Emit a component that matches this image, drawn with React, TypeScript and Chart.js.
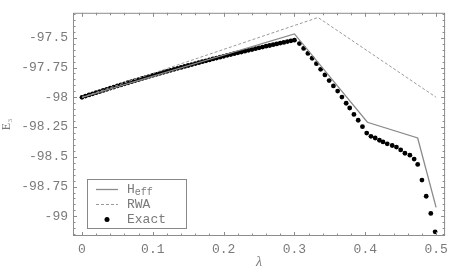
import React, { useEffect, useRef } from "react";
import { Chart, registerables } from "chart.js";

Chart.register(...registerables);

const exactLambda = [
  0, 0.005, 0.01, 0.015, 0.02, 0.025, 0.03, 0.035, 0.04, 0.045, 0.05, 0.055, 0.06, 0.065, 0.07, 0.075,
  0.08, 0.085, 0.09, 0.095, 0.1, 0.105, 0.11, 0.115, 0.12, 0.125, 0.13, 0.135, 0.14, 0.145, 0.15, 0.155,
  0.16, 0.165, 0.17, 0.175, 0.18, 0.185, 0.19, 0.195, 0.2, 0.205, 0.21, 0.215, 0.22, 0.225, 0.23, 0.235,
  0.24, 0.245, 0.25, 0.255, 0.26, 0.265, 0.27, 0.275, 0.28, 0.285, 0.29, 0.295, 0.3,
  0.307, 0.313, 0.319, 0.325, 0.331, 0.337, 0.343, 0.349, 0.355, 0.361, 0.367, 0.373, 0.378, 0.384,
  0.39, 0.396, 0.402, 0.408, 0.414, 0.42, 0.425, 0.431, 0.438, 0.444, 0.45, 0.456, 0.463, 0.469,
  0.474, 0.48, 0.486, 0.4925, 0.4986,
];
const exactE = [
  -98.0, -97.99, -97.98, -97.971, -97.961, -97.952, -97.942, -97.933, -97.923, -97.914, -97.905, -97.896,
  -97.887, -97.878, -97.869, -97.86, -97.851, -97.842, -97.833, -97.824, -97.816, -97.807, -97.799, -97.79,
  -97.782, -97.774, -97.765, -97.757, -97.749, -97.741, -97.733, -97.725, -97.717, -97.709, -97.701, -97.694,
  -97.686, -97.678, -97.671, -97.663, -97.656, -97.648, -97.641, -97.634, -97.627, -97.62, -97.613, -97.606,
  -97.599, -97.592, -97.585, -97.578, -97.571, -97.565, -97.558, -97.552, -97.545, -97.539, -97.532, -97.526,
  -97.52,
  -97.549, -97.59, -97.632, -97.672, -97.718, -97.765, -97.812, -97.86, -97.905, -97.948, -97.998, -98.05,
  -98.09, -98.144, -98.193, -98.247, -98.301, -98.328, -98.342, -98.361, -98.375, -98.391, -98.405, -98.418,
  -98.442, -98.47, -98.486, -98.519, -98.564, -98.695, -98.831, -98.975, -99.13,
];

const heffLambda = [0, 0.3, 0.403, 0.474, 0.5];
const heffE = [-98.0, -97.468, -98.21, -98.342, -98.925];

const rwaLambda = [0, 0.3333, 0.5];
const rwaE = [-98.0, -97.33, -98.0];

const xTicks = [0, 0.1, 0.2, 0.3, 0.4, 0.5];
const xTickLabels = ["0", "0.1", "0.2", "0.3", "0.4", "0.5"];
const yTicks = [-97.5, -97.75, -98, -98.25, -98.5, -98.75, -99];
const yTickLabels = ["-97.5", "-97.75", "-98", "-98.25", "-98.5", "-98.75", "-99"];

const X_MIN = -0.01268;
const X_MAX = 0.51268;
const Y_MIN = -99.165;
const Y_MAX = -97.2905;

const FRAME = "#8c8c8c";
const TEXT = "#7a7a7a";
const MONO = '"Liberation Mono", "DejaVu Sans Mono", monospace';

const framePlugin = {
  id: "frameTicksLegend",
  afterDraw(chart: any) {
    const { ctx, chartArea, scales } = chart;
    const { left, right, top, bottom } = chartArea;
    const xs = scales.x;
    const ys = scales.y;
    ctx.save();
    ctx.strokeStyle = FRAME;
    ctx.lineWidth = 1;
    ctx.strokeRect(left + 0.5, top + 0.5, right - left - 1, bottom - top - 1);
    ctx.beginPath();
    for (let i = 0; i <= 25; i++) {
      const v = i * 0.02;
      const px = Math.round(xs.getPixelForValue(v)) + 0.5;
      const len = i % 5 === 0 ? 4 : 2.5;
      ctx.moveTo(px, bottom);
      ctx.lineTo(px, bottom - len);
      ctx.moveTo(px, top);
      ctx.lineTo(px, top + len);
    }
    for (let i = -4; i <= 33; i++) {
      const v = -97.5 - i * 0.05;
      if (v > Y_MAX || v < Y_MIN) continue;
      const py = Math.round(ys.getPixelForValue(v)) + 0.5;
      const len = i % 5 === 0 ? 4 : 2.5;
      ctx.moveTo(left, py);
      ctx.lineTo(left + len, py);
      ctx.moveTo(right, py);
      ctx.lineTo(right - len, py);
    }
    ctx.stroke();

    // legend
    const bx = 87, by = 179, bw = 100, bh = 50;
    ctx.fillStyle = "#fff";
    ctx.fillRect(bx, by, bw, bh);
    ctx.strokeStyle = "#888";
    ctx.strokeRect(bx + 0.5, by + 0.5, bw - 1, bh - 1);

    const rows = [189.5, 204.5, 219.5];
    ctx.lineWidth = 1.3;
    ctx.strokeStyle = "#8a8a8a";
    ctx.beginPath();
    ctx.moveTo(96, rows[0]);
    ctx.lineTo(118, rows[0]);
    ctx.stroke();
    ctx.lineWidth = 1;
    ctx.strokeStyle = "#999";
    ctx.setLineDash([3, 2]);
    ctx.beginPath();
    ctx.moveTo(96, rows[1]);
    ctx.lineTo(118, rows[1]);
    ctx.stroke();
    ctx.setLineDash([]);
    ctx.fillStyle = "#000";
    ctx.beginPath();
    ctx.arc(107, rows[2], 2.5, 0, Math.PI * 2);
    ctx.fill();

    ctx.fillStyle = TEXT;
    ctx.textBaseline = "middle";
    ctx.textAlign = "left";
    ctx.font = `13px ${MONO}`;
    ctx.fillText("H", 127, rows[0]);
    const hw = ctx.measureText("H").width;
    ctx.font = `10px ${MONO}`;
    ctx.fillText("eff", 127 + hw, rows[0] + 3);
    ctx.font = `13px ${MONO}`;
    ctx.fillText("RWA", 127, rows[1]);
    ctx.fillText("Exact", 127, rows[2]);
    ctx.restore();
  },
};

export default function App() {
  const ref = useRef<HTMLCanvasElement | null>(null);
  useEffect(() => {
    if (!ref.current) return;
    const exactPts = exactLambda.map((x, i) => ({ x, y: exactE[i] }));
    const heffPts = heffLambda.map((x, i) => ({ x, y: heffE[i] }));
    const rwaPts = rwaLambda.map((x, i) => ({ x, y: rwaE[i] }));
    const chart = new Chart(ref.current, {
      type: "scatter",
      data: {
        datasets: [
          {
            label: "RWA",
            data: rwaPts,
            showLine: true,
            borderColor: "#9a9a9a",
            borderWidth: 1,
            borderDash: [3, 2],
            pointRadius: 0,
          },
          {
            label: "Heff",
            data: heffPts,
            showLine: true,
            borderColor: "#8a8a8a",
            borderWidth: 1.3,
            pointRadius: 0,
          },
          {
            label: "Exact",
            data: exactPts,
            showLine: false,
            pointRadius: 2.4,
            pointBackgroundColor: "#000",
            pointBorderWidth: 0,
          },
        ],
      },
      options: {
        responsive: false,
        animation: false,
        devicePixelRatio: 1,
        layout: { padding: { top: 6, right: 8, left: 0, bottom: 0 } },
        plugins: { legend: { display: false }, tooltip: { enabled: false } },
        scales: {
          x: {
            type: "linear",
            min: X_MIN,
            max: X_MAX,
            grid: { display: false, drawTicks: false },
            border: { display: false },
            afterBuildTicks: (s: any) => {
              s.ticks = xTicks.map((v) => ({ value: v }));
            },
            afterFit: (s: any) => {
              s.height = 37;
            },
            ticks: {
              autoSkip: false,
              maxRotation: 0,
              padding: 6,
              color: TEXT,
              font: { family: MONO, size: 13 },
              callback: (_v: any, i: number) => xTickLabels[i],
            },
            title: {
              display: true,
              text: "λ",
              color: TEXT,
              font: { family: '"Liberation Serif", serif', size: 14, style: "italic" },
              padding: { top: 0, bottom: 2 },
            },
          },
          y: {
            type: "linear",
            min: Y_MIN,
            max: Y_MAX,
            grid: { display: false, drawTicks: false },
            border: { display: false },
            afterBuildTicks: (s: any) => {
              s.ticks = yTicks.map((v) => ({ value: v }));
            },
            afterFit: (s: any) => {
              s.width = 73;
            },
            ticks: {
              autoSkip: false,
              padding: 5,
              color: TEXT,
              font: { family: MONO, size: 13 },
              callback: (_v: any, i: number) => yTickLabels[i],
            },
            title: {
              display: true,
              text: "E₃",
              color: TEXT,
              font: { family: '"Liberation Serif", serif', size: 12 },
              padding: { top: 0, bottom: 0 },
            },
          },
        },
      },
      plugins: [framePlugin],
    });
    return () => chart.destroy();
  }, []);
  return (
    <div style={{ position: "fixed", left: 0, top: 0, width: 454, height: 273, background: "#fff" }}>
      <canvas ref={ref} width={454} height={273} />
    </div>
  );
}
